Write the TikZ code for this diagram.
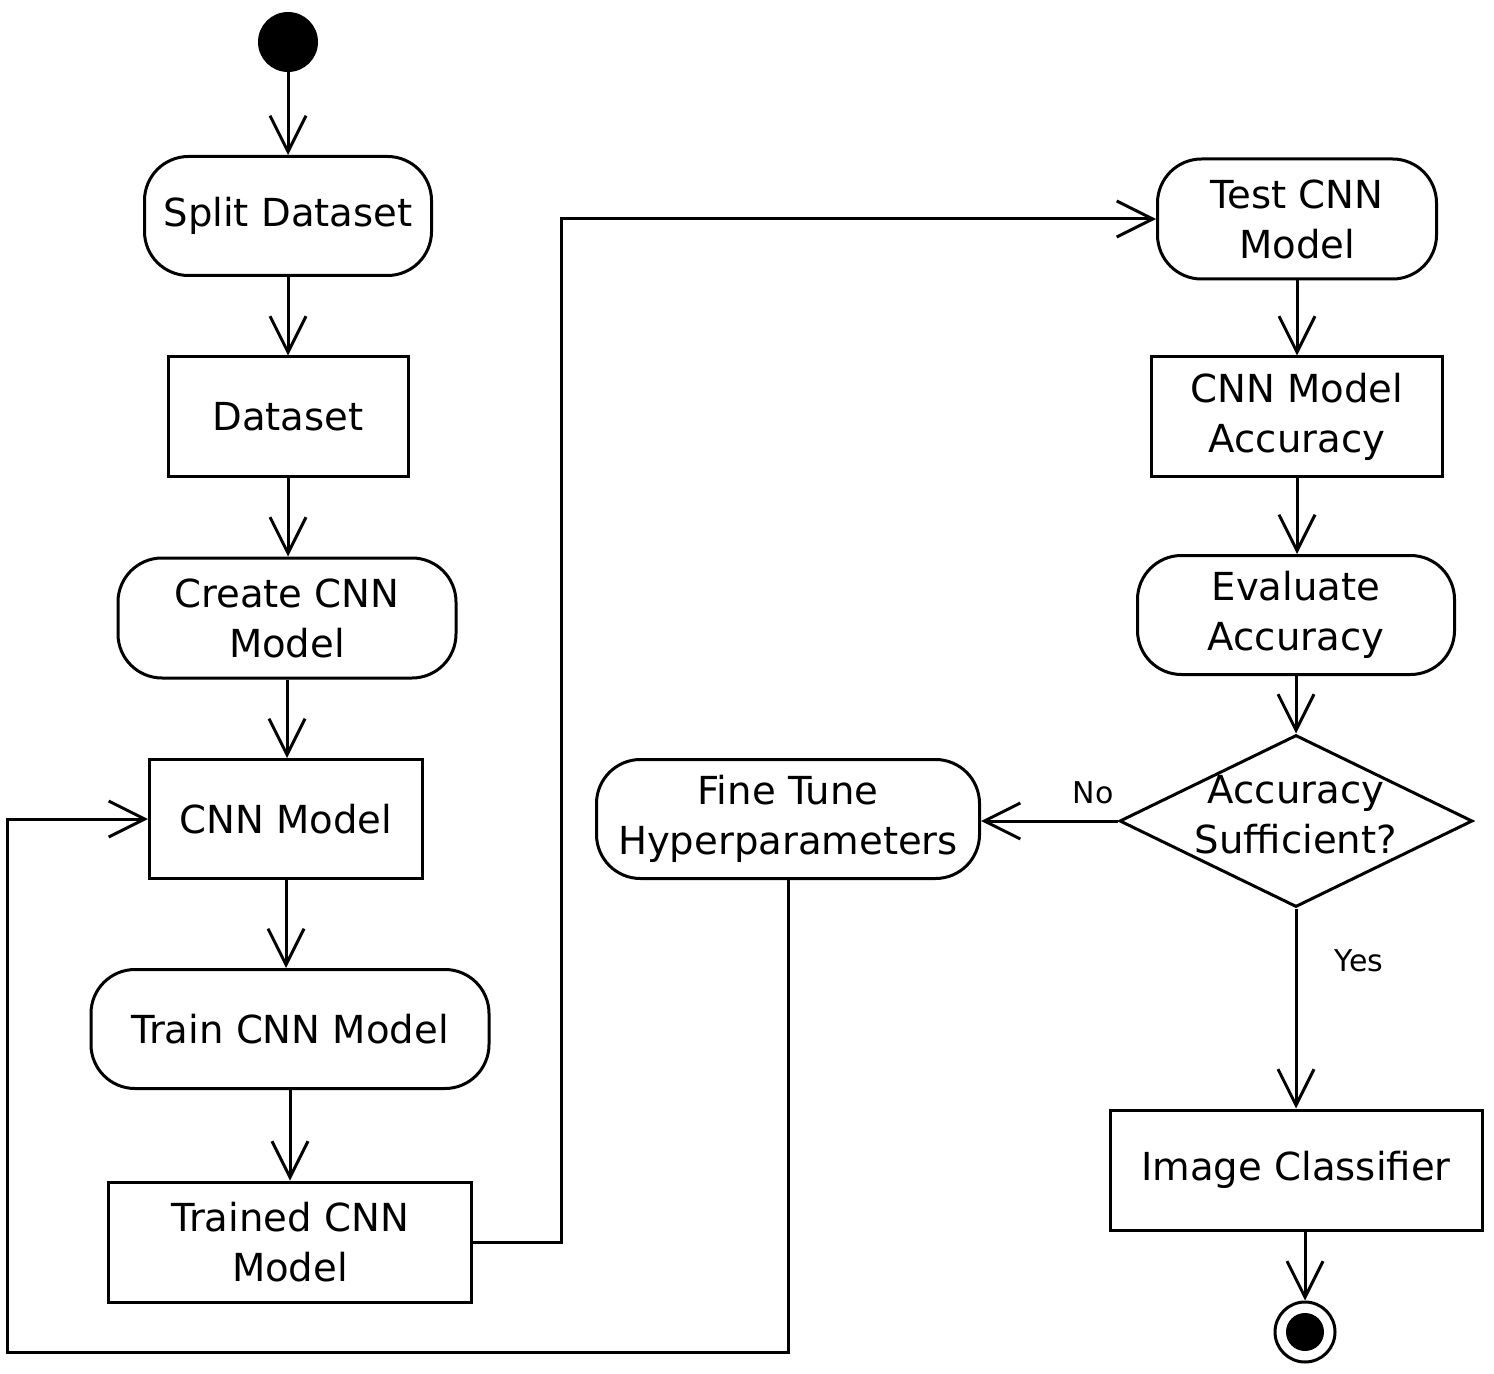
\documentclass[tikz,border=0pt]{standalone}
\usepackage{fontspec}
\setmainfont{DejaVu Sans}
\usetikzlibrary{arrows.meta,shapes.geometric}
\begin{document}
\begin{tikzpicture}[x=0.5pt,y=-0.5pt,
  every node/.style={font=\fontsize{19.3}{25}\selectfont, align=center, inner sep=0pt},
  action/.style={draw, line width=1.5pt, rounded corners=22pt},
  object/.style={draw, line width=1.5pt},
  flow/.style={line width=1.5pt, -{Straight Barb[length=18pt,width=18pt]}},
  guard/.style={font=\fontsize{15}{18}\selectfont}]
\useasboundingbox (0,0) rectangle (1494,1374);
% left column
\node[circle, fill, minimum size=30pt] (start) at (288,42) {};
\node[action, minimum width=143.5pt, minimum height=59.5pt] (split) at (288,216) {Split Dataset};
\node[object, minimum width=120pt, minimum height=60pt] (data) at (288,417) {Dataset};
\node[action, minimum width=169pt, minimum height=60pt] (create) at (287,618) {Create CNN\\Model};
\node[object, minimum width=136.5pt, minimum height=59.5pt] (cnn) at (286,819) {CNN Model};
\node[action, minimum width=199pt, minimum height=59.5pt] (train) at (290,1029) {Train CNN Model};
\node[object, minimum width=181.5pt, minimum height=60pt] (trained) at (290,1242) {Trained CNN\\Model};
% right column
\node[action, minimum width=139.5pt, minimum height=60pt] (test) at (1297,219) {Test CNN\\Model};
\node[object, minimum width=145.5pt, minimum height=60pt] (acc) at (1297,417) {CNN Model\\Accuracy};
\node[action, minimum width=158.5pt, minimum height=59.5pt] (eval) at (1296,615) {Evaluate\\Accuracy};
\node[diamond, draw, line width=1.5pt, minimum width=176.5pt, minimum height=86pt] (dec) at (1296,821) {};
\node (dectext) at (1296,815) {Accuracy\\Sufficient?};
\node[action, minimum width=191.5pt, minimum height=59.5pt] (fine) at (788,819) {Fine Tune\\Hyperparameters};
\node[object, minimum width=186pt, minimum height=60pt] (img) at (1296,1170) {Image Classifier};
\node[circle, draw, line width=1.5pt, minimum size=30pt] (end) at (1305,1332) {};
\node[circle, fill, minimum size=19pt] (endin) at (1305,1332) {};
\node[guard] (nolbl) at (1093,793) {No};
\node[guard] (yeslbl) at (1359,961) {Yes};
% helper coordinates
\coordinate (jog) at (561,1242);
\coordinate (loopL) at (7,1352);
% connectors
\draw[flow] (start) -- (split);
\draw[flow] (split) -- (data);
\draw[flow] (data) -- (data |- create.north);
\draw[flow] (create) -- (create |- cnn.north);
\draw[flow] (cnn) -- (cnn |- train.north);
\draw[flow] (train) -- (trained);
\draw[flow] (trained.east) -- (jog) |- (test.west);
\draw[flow] (test) -- (acc);
\draw[flow] (acc) -- (acc |- eval.north);
\draw[flow] (eval.south) -- (dec.north);
\draw[flow] (dec.west) -- (dec.west -| fine.east);
\draw[flow] (dec.south) -- (img.north);
\draw[flow] (img.south -| end) -- (end.north);
\draw[flow] (fine.south) |- (loopL) |- (cnn.west);
\end{tikzpicture}
\end{document}
